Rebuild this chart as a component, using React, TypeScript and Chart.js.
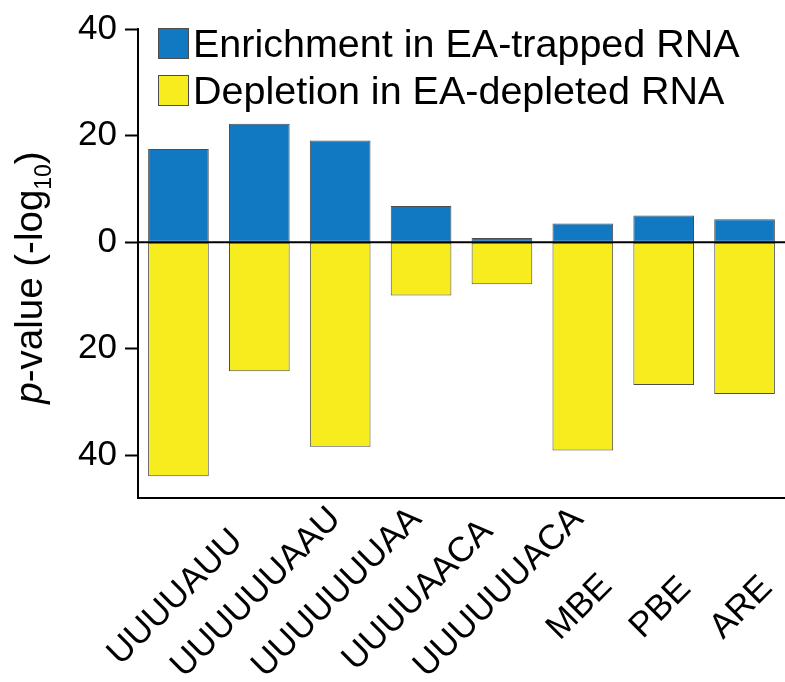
import React, { useEffect, useRef } from 'react';
import { Chart, registerables } from 'chart.js';

Chart.register(...registerables);

const categories = ['UUUUAUU', 'UUUUUUAAU', 'UUUUUUUAA', 'UUUUAACA', 'UUUUUUACA', 'MBE', 'PBE', 'ARE'];
const enrichment = [17.5, 22.2, 19.1, 6.8, 0.8, 3.5, 5.0, 4.3];
const depletion = [-43.9, -24.2, -38.4, -10.0, -7.9, -39.1, -26.8, -28.5];
const yTicks = [-40, -20, 0, 20, 40];
const seriesLabels = ['Enrichment in EA-trapped RNA', 'Depletion in EA-depleted RNA'];

const BLUE = '#1079C1';
const YELLOW = '#F7EC1E';
const EDGE = '#4d4d4d';
const FONT = '"Liberation Sans", Arial, Helvetica, sans-serif';

const overlay = {
  id: 'overlay',
  afterDatasetsDraw(chart: any) {
    const { ctx, chartArea, scales } = chart;
    const y0 = scales.y.getPixelForValue(0);
    ctx.save();
    ctx.strokeStyle = '#000';
    ctx.lineWidth = 2;
    ctx.beginPath();
    ctx.moveTo(chartArea.left, y0);
    ctx.lineTo(chartArea.right, y0);
    ctx.stroke();
    ctx.restore();
  },
  afterDraw(chart: any) {
    const { ctx, chartArea, scales } = chart;
    ctx.save();
    // Legend
    const colors = [BLUE, YELLOW];
    ctx.font = `39.5px ${FONT}`;
    ctx.textAlign = 'left';
    ctx.textBaseline = 'alphabetic';
    seriesLabels.forEach((lab, i) => {
      const bx = chartArea.left + 20;
      const by = chartArea.top - 1 + i * 47;
      ctx.fillStyle = colors[i];
      ctx.fillRect(bx, by, 30, 30);
      ctx.strokeStyle = EDGE;
      ctx.lineWidth = 1;
      ctx.strokeRect(bx + 0.5, by + 0.5, 30, 30);
      ctx.fillStyle = '#000';
      ctx.fillText(lab, bx + 35, by + 29);
    });

    // X labels, rotated 45 degrees, centred under each bar
    ctx.font = `35px ${FONT}`;
    ctx.textAlign = 'center';
    ctx.textBaseline = 'middle';
    ctx.fillStyle = '#000';
    categories.forEach((c, i) => {
      const x = scales.x.getPixelForValue(i);
      const w = ctx.measureText(c).width;
      const cy = chartArea.bottom + 117 - 0.1 * w;
      ctx.save();
      ctx.translate(x - 3, cy);
      ctx.rotate(-Math.PI / 4);
      ctx.fillText(c, 0, 0);
      ctx.restore();
    });

    // Y title: p-value (-log10)
    const size = 38.5;
    const parts = [
      { t: 'p', font: `italic ${size}px ${FONT}`, dy: 0 },
      { t: '-value (-log', font: `${size}px ${FONT}`, dy: 0 },
      { t: '10', font: `${Math.round(size * 0.6)}px ${FONT}`, dy: 9 },
      { t: ')', font: `${size}px ${FONT}`, dy: 0 },
    ];
    let total = 0;
    const widths = parts.map((p) => {
      ctx.font = p.font;
      const w = ctx.measureText(p.t).width;
      total += w;
      return w;
    });
    const cyTitle = (chartArea.top + chartArea.bottom) / 2 + 14;
    ctx.translate(42, cyTitle);
    ctx.rotate(-Math.PI / 2);
    ctx.textAlign = 'left';
    ctx.textBaseline = 'alphabetic';
    let xx = -total / 2;
    parts.forEach((p, i) => {
      ctx.font = p.font;
      ctx.fillText(p.t, xx, p.dy);
      xx += widths[i];
    });
    ctx.restore();
  },
};

export default function App() {
  const ref = useRef<HTMLCanvasElement | null>(null);

  useEffect(() => {
    if (!ref.current) return;
    const chart = new Chart(ref.current, {
      type: 'bar',
      data: {
        labels: categories,
        datasets: [
          {
            label: seriesLabels[0],
            data: enrichment,
            backgroundColor: BLUE,
            borderColor: EDGE,
            borderWidth: 1,
            borderSkipped: false,
            grouped: false,
            categoryPercentage: 1,
            barPercentage: 0.75,
          } as any,
          {
            label: seriesLabels[1],
            data: depletion,
            backgroundColor: YELLOW,
            borderColor: EDGE,
            borderWidth: 1,
            borderSkipped: false,
            grouped: false,
            categoryPercentage: 1,
            barPercentage: 0.75,
          } as any,
        ],
      },
      options: {
        responsive: false,
        animation: false,
        layout: { padding: { top: 27, right: 0, bottom: 0, left: 0 } },
        plugins: {
          legend: { display: false },
          tooltip: { enabled: false },
        },
        scales: {
          x: {
            type: 'category',
            offset: true,
            grid: { display: false, drawTicks: false },
            ticks: { display: false },
            border: { display: true, color: '#000', width: 2 },
            afterFit: (s: any) => {
              s.height = 184;
            },
          },
          y: {
            min: -48,
            max: 40,
            afterBuildTicks: (a: any) => {
              a.ticks = yTicks.map((v) => ({ value: v }));
            },
            ticks: {
              callback: (v: any) => String(Math.abs(Number(v))),
              font: { family: FONT, size: 35 },
              color: '#000',
              padding: 8,
            },
            grid: {
              drawOnChartArea: false,
              color: '#000',
              tickColor: '#000',
              tickLength: 13,
              tickWidth: 2,
            },
            border: { display: true, color: '#000', width: 2 },
            afterFit: (s: any) => {
              s.width = 138;
            },
          },
        },
      } as any,
      plugins: [overlay],
    });
    return () => chart.destroy();
  }, []);

  return (
    <div style={{ position: 'fixed', left: 0, top: 0, width: 785, height: 682, background: '#fff' }}>
      <canvas ref={ref} width={785} height={682} />
    </div>
  );
}
